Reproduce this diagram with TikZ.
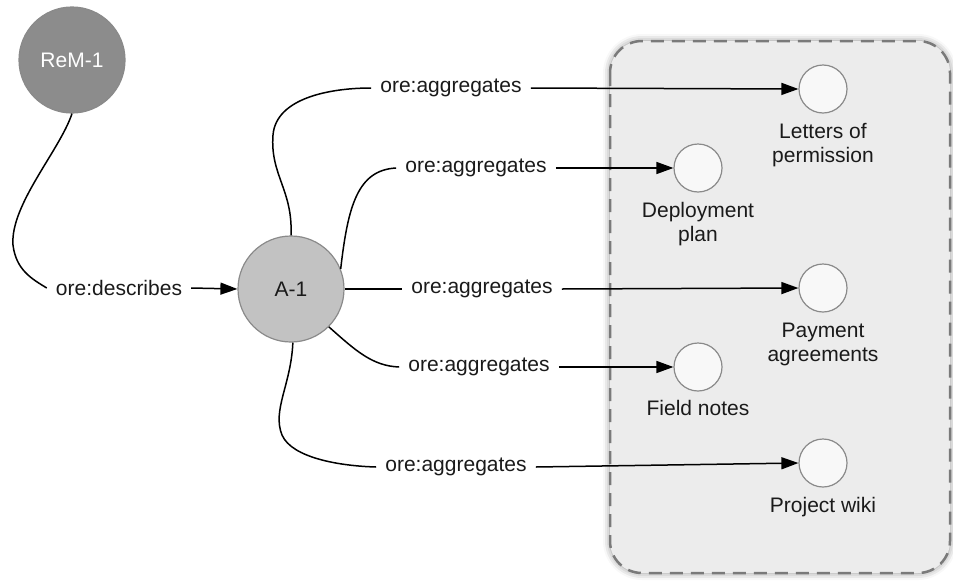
\documentclass[tikz,border=0pt]{standalone}
\usepackage{fontspec}
\setmainfont{Liberation Sans}
\usetikzlibrary{arrows.meta,shadows.blur}
\definecolor{boxfill}{HTML}{ECECEC}
\definecolor{dashc}{HTML}{7A7A7A}
\definecolor{afill}{HTML}{C2C2C2}
\definecolor{rfill}{HTML}{8C8C8C}
\definecolor{cborder}{HTML}{8A8A8A}
\definecolor{cfill}{HTML}{F8F8F8}
\definecolor{txt}{HTML}{1A1A1A}
\tikzset{
  bigc/.style={circle, minimum size=106pt, inner sep=0pt, draw=cborder, line width=1.2pt, text=txt, font=\fontsize{21}{24}\selectfont},
  smallc/.style={circle, minimum size=48pt, inner sep=0pt, draw=cborder, line width=1.2pt, fill=cfill},
  rel/.style={inner xsep=9pt, inner ysep=2pt, text=txt, font=\fontsize{21}{24}\selectfont},
  captext/.style={align=center, inner sep=0pt, text=txt, font=\fontsize{21}{24}\selectfont},
  conn/.style={line width=1.5pt, black},
  arr/.style={conn, -{Triangle[length=17pt,width=12pt]}},
}
\begin{document}
\begin{tikzpicture}[x=1pt,y=-1pt]
\useasboundingbox (0,0) rectangle (953,584);
% group box
\draw[dashc, fill=boxfill, line width=2.5pt, dash pattern=on 13pt off 8pt, rounded corners=32pt,
  blur shadow={shadow xshift=0pt, shadow yshift=0pt, shadow blur radius=7pt, shadow opacity=45}]
  (610,41) rectangle (950,573);
% main nodes
\node[bigc, fill=rfill, text=white] (R) at (72,60) {ReM-1};
\node[bigc, fill=afill] (A) at (291,289) {A-1};
% target circles
\node[smallc] (c1) at (823,89) {};
\node[smallc] (c2) at (698,168) {};
\node[smallc] (c3) at (823,288) {};
\node[smallc] (c4) at (698,367) {};
\node[smallc] (c5) at (823,463) {};
\node[captext] (t1) at (823,145) {Letters of\\permission};
\node[captext] (t2) at (698,224.5) {Deployment\\plan};
\node[captext] (t3) at (823,344.5) {Payment\\agreements};
\node[captext] (t4) at (698,408) {Field notes};
\node[captext] (t5) at (823,507) {Project wiki};
% relation labels
\node[rel] (l0) at (119,288) {ore:describes};
\node[rel] (l1) at (451,88) {ore:aggregates};
\node[rel] (l2) at (476,168) {ore:aggregates};
\node[rel] (l3) at (482,289) {ore:aggregates};
\node[rel] (l4) at (479,367) {ore:aggregates};
\node[rel] (l5) at (456,467) {ore:aggregates};
% connectors
\draw[conn] (R.south) .. controls (60,150) and (10,205) .. (13,245) .. controls (16,270) and (32,279) .. (l0.west);
\draw[arr] (l0.east) -- (A.west);
\draw[conn] (A.north) .. controls (293,190) and (270,175) .. (273,135) .. controls (276,98) and (330,88) .. (l1.west);
\draw[arr] (l1.east) -- (c1.west);
\draw[conn] (A.22) .. controls (348,205) and (358,170) .. (l2.west);
\draw[arr] (l2.east) -- (c2.west);
\draw[conn] (A.east) -- (l3.west);
\draw[arr] (l3.east) -- (c3.west);
\draw[conn] (A.-45) .. controls (355,350) and (372,366) .. (l4.west);
\draw[arr] (l4.east) -- (c4.west);
\draw[conn] (A.-88) .. controls (291,385) and (272,410) .. (282,435) .. controls (292,458) and (340,466) .. (l5.west);
\draw[arr] (l5.east) -- (c5.west);
\end{tikzpicture}
\end{document}
